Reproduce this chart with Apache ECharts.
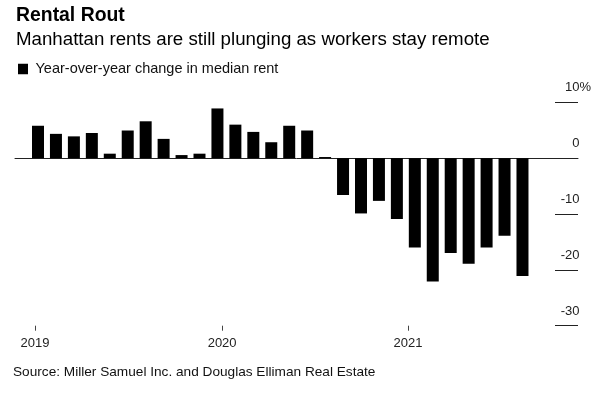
<!DOCTYPE html>
<html>
<head>
<meta charset="utf-8">
<script src="https://cdn.jsdelivr.net/npm/echarts@6/dist/echarts.min.js"></script>
<style>
html,body{margin:0;padding:0;background:#fff;}
#chart{width:600px;height:402px;}
</style>
</head>
<body>
<div id="chart"></div>
<script>
// Months Jan 2019 .. Apr 2021
var months = ['2019-01','2019-02','2019-03','2019-04','2019-05','2019-06','2019-07','2019-08','2019-09','2019-10','2019-11','2019-12',
  '2020-01','2020-02','2020-03','2020-04','2020-05','2020-06','2020-07','2020-08','2020-09','2020-10','2020-11','2020-12',
  '2021-01','2021-02','2021-03','2021-04'];
var yoyChange = [5.8, 4.35, 3.9, 4.5, 0.8, 4.95, 6.6, 3.45, 0.55, 0.8, 8.9, 6.0,
  4.7, 2.85, 5.8, 4.95, 0.2, -6.6, -9.9, -7.65, -10.9, -16.0, -22.1, -17.0,
  -18.9, -16.0, -13.9, -21.1];
var yearLabels = ['2019', '2020', '2021'];
var yearTickPos = [-0.17, 10.26, 20.62];

var barData = months.map(function (m, i) { return [i, yoyChange[i]]; });
var font = '"Liberation Sans", Arial, Helvetica, sans-serif';

var chart = echarts.init(document.getElementById('chart'));
chart.setOption({
  backgroundColor: '#fff',
  animation: false,
  textStyle: { fontFamily: font },
  title: [
    { text: 'Rental Rout', left: 16, top: 6, padding: 0, textStyle: { fontSize: 19.4, fontWeight: 'bold', color: '#000', fontFamily: font } },
    { text: 'Manhattan rents are still plunging as workers stay remote', left: 16, top: 30, padding: 0, textStyle: { fontSize: 18.7, fontWeight: 'normal', color: '#000', fontFamily: font } },
    { text: 'Source: Miller Samuel Inc. and Douglas Elliman Real Estate', left: 13, top: 365, padding: 0, textStyle: { fontSize: 13.65, fontWeight: 'normal', color: '#111', fontFamily: font } }
  ],
  legend: {
    left: 18, top: 61.5, padding: 0, itemWidth: 10, itemHeight: 10.5, itemGap: 8,
    icon: 'rect',
    textStyle: { fontSize: 14.5, color: '#111', fontFamily: font, padding: [0, 0, 0, 2.5] },
    data: ['Year-over-year change in median rent']
  },
  grid: { left: 15, right: 22, top: 102.3, bottom: 76.3, containLabel: false },
  xAxis: [
    {
      type: 'value', min: -1.282, max: 30.094,
      axisLine: { show: true, onZero: true, lineStyle: { color: '#222', width: 1 } },
      axisTick: { show: false }, axisLabel: { show: false }, splitLine: { show: false }
    },
    {
      type: 'value', min: -1.282, max: 30.094, position: 'bottom',
      axisLine: { show: false, onZero: false },
      axisTick: { show: true, length: 5, customValues: yearTickPos, lineStyle: { color: '#444', width: 1 } },
      axisLabel: {
        show: true, margin: 11, customValues: yearTickPos, fontSize: 13, color: '#222', fontFamily: font,
        formatter: function (v) {
          for (var i = 0; i < yearTickPos.length; i++) {
            if (Math.abs(yearTickPos[i] - v) < 1e-6) return yearLabels[i];
          }
          return '';
        }
      },
      splitLine: { show: false }
    }
  ],
  yAxis: {
    type: 'value', min: -30, max: 10, interval: 10, position: 'right',
    axisLine: { show: false, onZero: false },
    axisTick: { show: true, inside: true, length: 23, lineStyle: { color: '#222', width: 1 } },
    splitLine: { show: false },
    axisLabel: {
      show: true, align: 'right', verticalAlign: 'bottom', margin: 13, padding: [0, 0, 8, 0],
      fontSize: 13, color: '#222', fontFamily: font,
      formatter: function (v) {
        return v === 10 ? '{n|10}{p|%}' : '{n|' + v + '}{h|%}';
      },
      rich: {
        n: { fontSize: 13, color: '#222', fontFamily: font },
        p: { fontSize: 13, color: '#222', fontFamily: font },
        h: { fontSize: 13, color: 'rgba(0,0,0,0)', fontFamily: font }
      }
    }
  },
  series: [{
    name: 'Year-over-year change in median rent',
    type: 'bar',
    xAxisIndex: 0,
    barWidth: 12,
    itemStyle: { color: '#000' },
    data: barData
  }]
});
</script>
</body>
</html>
